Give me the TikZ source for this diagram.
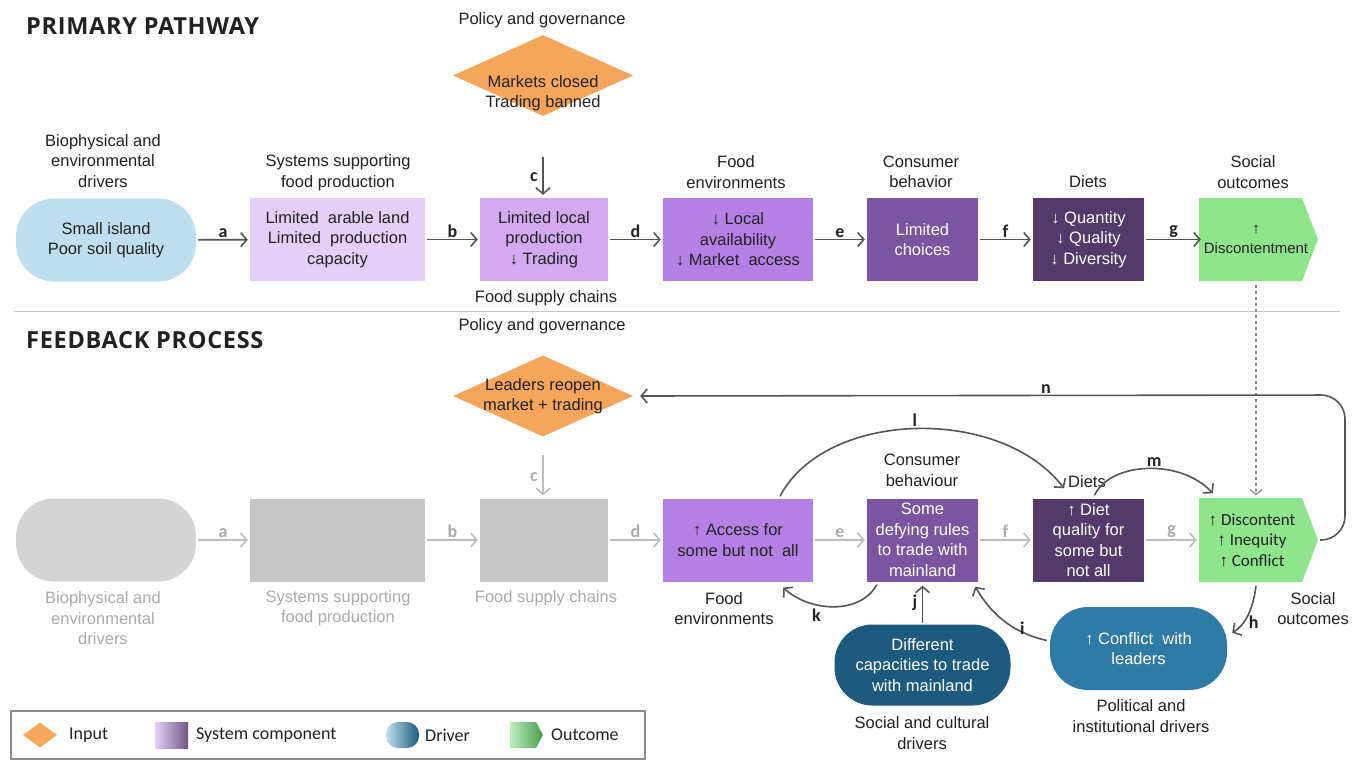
\documentclass[tikz,border=0pt]{standalone}
\usepackage{fontspec}
\setmainfont{Liberation Sans}
\newfontfamily\hfont[LetterSpace=3]{Open Sans}
\newfontfamily\cfont{Carlito}
\usetikzlibrary{arrows.meta,shapes.geometric,calc}
\definecolor{txt}{HTML}{222222}
\definecolor{arrg}{HTML}{555555}
\definecolor{garr}{HTML}{BDBDBD}
\definecolor{glab}{HTML}{ABABAB}
\definecolor{cBio}{HTML}{BFDFF0}
\definecolor{cSys}{HTML}{E4D0F7}
\definecolor{cSup}{HTML}{D3A9F0}
\definecolor{cEnv}{HTML}{B580E4}
\definecolor{cCon}{HTML}{7B559F}
\definecolor{cDiet}{HTML}{533A6B}
\definecolor{cOut}{HTML}{8EE58B}
\definecolor{cIn}{HTML}{F5A65B}
\definecolor{cGrayA}{HTML}{D4D4D4}
\definecolor{cGrayB}{HTML}{C6C6C6}
\definecolor{cSoc}{HTML}{1C5B7D}
\definecolor{cPol}{HTML}{2E7BA8}
\newcommand\ua{{\rmfamily ↑}}
\begin{document}
\begin{tikzpicture}[x=1pt,y=-1pt,
  nf/.style={font=\fontsize{16.5}{20.5}\selectfont, align=center},
  box/.style={nf, inner sep=0, minimum height=83, text=txt},
  stad/.style={box, rounded corners=38},
  lab/.style={nf, text=txt, inner sep=0},
  glab/.style={nf, text=glab, inner sep=0},
  letr/.style={font=\cfont\bfseries\fontsize{18}{18}\selectfont, text=txt, inner sep=1.5pt},
  gletr/.style={letr, text=glab},
  arr/.style={draw=arrg, line width=1.6pt, -{Straight Barb[length=6pt,width=14pt,line width=1.6pt]}},
  garr/.style={arr, draw=garr},
  dia/.style={diamond, fill=cIn, minimum width=180, minimum height=81, inner sep=0},
  head/.style={font=\hfont\bfseries\fontsize{23.5}{23.5}\selectfont, text=txt, anchor=west, inner sep=0},
  legt/.style={font=\cfont\fontsize{18}{18}\selectfont, text=txt, anchor=west, inner sep=0}
]
\useasboundingbox (0,0) rectangle (1359,766);
\fill[white] (0,0) rectangle (1359,766);

% headings
\node[head] (h1) at (26,26) {PRIMARY PATHWAY};
\node[head] (h2) at (26,340) {FEEDBACK PROCESS};
\draw[draw=cGrayB, line width=1pt] (14,311) -- (1340,311);

% ---------- primary pathway ----------
\node[dia] (d1) at (543,75.5) {};
\node[lab] (d1t) at (543,93) {Markets closed\\Trading banned};
\node[lab] (d1l) at (542,20) {Policy and governance};
\coordinate (c1s) at (543,157);

\node[stad, fill=cBio, minimum width=180] (b1) at (106,240) {Small island\\Poor soil quality};
\node[box, fill=cSys, minimum width=175] (b2) at (337.5,239.5) {Limited\ \ arable land\\Limited\ \ production\\capacity};
\node[box, fill=cSup, minimum width=128] (b3) at (544,239.5) {Limited local\\production\\↓ Trading};
\node[box, fill=cEnv, minimum width=150] (b4) at (738,239.5) {↓ Local\\availability\\↓ Market\ \ access};
\node[box, fill=cCon, minimum width=111, text=white] (b5) at (922.5,239.5) {Limited\\choices};
\node[box, fill=cDiet, minimum width=111, text=white] (b6) at (1088.5,239.5) {↓ Quantity\\↓ Quality\\↓ Diversity};
\fill[cOut] (1199,198) -- (1302,198) -- (1318,239.5) -- (1302,281) -- (1199,281) -- cycle;
\node[box, minimum width=106, font=\fontsize{15}{20.5}\selectfont] (o1) at (1256,239.5) {↑\\Discontentment};

\node[lab] (l1) at (103,161) {Biophysical and\\environmental\\drivers};
\node[lab] (l2) at (338,172.5) {Systems supporting\\food production};
\node[lab] (l3) at (546,298) {Food supply chains};
\node[lab] (l4) at (736,172) {Food\\environments};
\node[lab] (l5) at (921,172) {Consumer\\behavior};
\node[lab] (l6) at (1088,182) {Diets};
\node[lab] (l7) at (1253,172) {Social\\outcomes};

\draw[arr, shorten <=2pt, shorten >=2pt] (b1) -- node[letr, above] {a} (b2);
\draw[arr, shorten <=2pt, shorten >=2pt] (b2) -- node[letr, above] {b} (b3);
\draw[arr, shorten >=3pt] (c1s) -- node[letr, left, xshift=-3pt] {c} (c1s |- b3.north);
\draw[arr, shorten <=2pt, shorten >=2pt] (b3) -- node[letr, above] {d} (b4);
\draw[arr, shorten <=2pt, shorten >=2pt] (b4) -- node[letr, above] {e} (b5);
\draw[arr, shorten <=2pt, shorten >=2pt] (b5) -- node[letr, above] {f} (b6);
\draw[arr, shorten <=2pt, shorten >=2pt] (b6) -- node[letr, above] {g} (b6 -| o1.west);

% ---------- feedback process ----------
\node[dia] (d2) at (543,396) {};
\node[lab] (d2t) at (543,396) {Leaders reopen\\market + trading};
\node[lab] (d2l) at (542,326) {Policy and governance};
\coordinate (c2s) at (543,455);

\node[stad, fill=cGrayA, minimum width=180] (g1) at (106,540) {};
\node[box, fill=cGrayB, minimum width=175] (g2) at (337.5,540) {};
\node[box, fill=cGrayB, minimum width=128] (g3) at (544,540) {};
\node[box, fill=cEnv, minimum width=150] (f4) at (738,540) {↑ Access for\\some but not\ \ all};
\node[box, fill=cCon, minimum width=111, text=white] (f5) at (922.5,540) {Some\\defying rules\\to trade with\\mainland};
\node[box, fill=cDiet, minimum width=111, text=white] (f6) at (1088.5,540) {↑ Diet\\quality for\\some but\\not all};
\fill[cOut] (1199,498) -- (1302,498) -- (1318,540) -- (1302,582) -- (1199,582) -- cycle;
\node[box, minimum width=106, font=\cfont\fontsize{17}{20.5}\selectfont] (o2) at (1252,540) {\ua\ Discontent\\\ua\ Inequity\\\ua\ Conflict};
\coordinate (o2tip) at (1320,540);

\node[stad, fill=cSoc, minimum width=176, minimum height=81, text=white, rounded corners=38] (s1) at (922.5,665) {Different\\capacities to trade\\with mainland};
\node[stad, fill=cPol, minimum width=177, text=white] (s2) at (1138.5,648.5) {↑ Conflict\ \ with\\leaders};

\node[glab] (gl1) at (103,618.5) {Biophysical and\\environmental\\drivers};
\node[glab] (gl2) at (338,608) {Systems supporting\\food production};
\node[glab] (gl3) at (546,598) {Food supply chains};
\node[lab] (fl4) at (724,608.5) {Food\\environments};
\node[lab] (fl5) at (922,470.5) {Consumer\\behaviour};
\node[lab] (fl6) at (1087,482) {Diets};
\node[lab] (fl7) at (1313,608.5) {Social\\outcomes};
\node[lab] (sl1) at (922,733) {Social and cultural\\drivers};
\node[lab] (sl2) at (1141,716) {Political and\\institutional drivers};

\draw[garr, shorten <=2pt, shorten >=2pt] (g1) -- node[gletr, above] {a} (g2);
\draw[garr, shorten <=2pt, shorten >=2pt] (g2) -- node[gletr, above] {b} (g3);
\draw[garr, shorten >=3pt] (c2s) -- node[gletr, left, xshift=-3pt] {c} (c2s |- g3.north);
\draw[garr, shorten <=2pt, shorten >=2pt] (g3) -- node[gletr, above] {d} (f4);
\draw[garr, shorten <=2pt, shorten >=2pt] (f4) -- node[gletr, above] {e} (f5);
\draw[garr, shorten <=2pt, shorten >=2pt] (f5) -- node[gletr, above] {f} (f6);
\draw[garr, shorten <=2pt, shorten >=2pt] (f6) -- node[gletr, above] {g} (f6 -| o2.west);

% dashed link
\draw[arr, dashed, line width=1.2pt, -{Straight Barb[length=5pt,width=12pt,line width=1.2pt]}, draw=arrg!70, shorten <=4pt, shorten >=3pt] (o1.south) -- (o1.south |- o2.north);

% feedback arcs
\draw[arr, rounded corners=24, shorten >=7pt] (o2tip) -| (1345,395) -- node[letr, above, pos=0.42] {n} (d2.east);
\draw[arr] ($(f4.north)+(42,-2)$) .. controls (825,410) and (1000,405) .. node[letr, above, pos=0.5] {l} ($(fl6.south west)+(-4,0)$);
\draw[arr] ($(f6.north)+(6,-3)$) .. controls (1110,462) and (1180,458) .. node[letr, above, pos=0.55] {m} ($(o2.north west)+(14,-5)$);
\draw[arr] ($(f5.south west)+(10,3)$) .. controls (860,615) and (810,612) .. node[letr, below, pos=0.55, xshift=-12pt] {k} ($(f4.south east)+(-30,6)$);
\draw[arr, shorten <=1pt, shorten >=4pt] (s1.north) -- node[letr, left, xshift=-3pt] {j} (s1.north |- f5.south);
\draw[arr] ($(s2.west)+(-3,-8)$) .. controls (1010,632) and (990,612) .. node[letr, right, pos=0.3, yshift=2] {i} ($(f5.south east)+(-3,5)$);
\draw[arr] ($(o2.south)+(4,4)$) .. controls (1253,610) and (1245,625) .. node[letr, right, pos=0.55, yshift=-4] {h} ($(s2.north east)+(5,26)$);

% legend
\draw[draw=black!45, line width=1.2pt] (11,711) rectangle (645,759);
\node[diamond, fill=cIn, minimum width=34, minimum height=25, inner sep=0] (lg1) at (40,735) {};
\node[legt] (lt1) at (69,735) {Input};
\shade[left color=cSys, right color=cDiet!85] (155,722) rectangle (188,748);
\node[legt] (lt2) at (196,735) {System component};
\shade[left color=cBio, right color=cSoc, rounded corners=12] (386,722) rectangle (419,748);
\node[legt] (lt3) at (425,735) {Driver};
\shade[left color=cOut!60, right color=green!45!black!70] (510,722) -- (536,722) -- (543,735) -- (536,748) -- (510,748) -- cycle;
\node[legt] (lt4) at (551,735) {Outcome};
\end{tikzpicture}
\end{document}
